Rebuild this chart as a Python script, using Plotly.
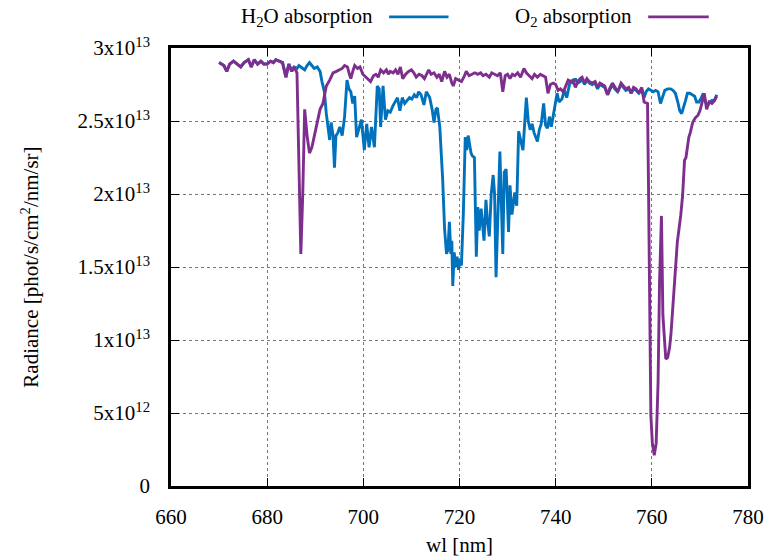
import plotly.graph_objects as go

# Wavelength grid [nm] and radiance [1e13 phot/s/cm^2/nm/sr] for each absorption band
wl_o2 = [670.0, 670.5, 671.0, 671.6, 672.2, 673.0, 673.8, 674.5, 675.2, 676.1, 676.7, 677.3, 678.0, 678.7,
         679.3, 680.0, 680.7, 681.3, 681.8, 682.5, 683.2, 683.9, 684.5, 685.1, 685.6, 686.2, 686.6, 687.0,
         687.4, 687.8, 688.3, 688.8, 689.3, 689.8, 690.4, 691.0, 691.6, 692.3, 693.0, 693.7, 694.4, 695.1,
         695.6, 696.1, 696.7, 697.1, 697.4, 697.8, 698.2, 698.8, 699.3, 699.9, 700.5, 701.0, 701.5, 702.1,
         702.6, 703.1, 703.6, 704.2, 704.8, 705.2, 705.6, 706.2, 706.7, 707.2, 707.7, 708.2, 708.8, 709.4,
         710.0, 710.5, 711.0, 711.6, 712.2, 712.7, 713.2, 713.6, 714.1, 714.7, 715.3, 715.8, 716.3, 716.9,
         717.4, 717.9, 718.4, 718.7, 719.2, 719.8, 720.4, 720.9, 721.4, 722.0, 722.6, 723.2, 723.8, 724.4,
         724.9, 725.5, 726.2, 726.7, 727.3, 727.9, 728.5, 729.0, 729.5, 730.0, 730.5, 731.0, 731.5, 732.1,
         732.7, 733.4, 733.9, 734.5, 735.1, 735.6, 736.2, 736.8, 737.4, 737.9, 738.4, 738.9, 739.5, 740.0,
         740.5, 741.0, 741.6, 742.1, 742.6, 743.1, 743.6, 744.1, 744.6, 745.1, 745.5, 746.0, 746.5, 747.0,
         747.6, 748.2, 748.7, 749.2, 749.7, 750.2, 750.8, 751.2, 751.8, 752.3, 752.9, 753.6, 754.1, 754.6,
         755.2, 755.7, 756.2, 756.7, 757.3, 757.9, 758.4, 759.1, 759.3, 759.6, 759.8, 760.1, 760.5, 760.9,
         761.3, 761.6, 761.9, 762.0, 762.3, 762.9, 763.3, 763.7, 764.0, 764.4, 764.9, 765.3, 766.0, 766.4,
         766.8, 767.1, 767.7, 768.0, 768.5, 769.0, 769.6, 770.0, 770.4, 770.9, 771.4, 771.9, 772.5, 773.0,
         773.5]
rad_o2 = [2.90, 2.89, 2.88, 2.84, 2.89, 2.91, 2.89, 2.87, 2.90, 2.92, 2.87, 2.92, 2.89, 2.91,
          2.89, 2.89, 2.91, 2.90, 2.92, 2.91, 2.90, 2.80, 2.89, 2.84, 2.87, 2.83, 2.20, 1.59,
          2.00, 2.58, 2.40, 2.28, 2.32, 2.40, 2.50, 2.58, 2.62, 2.74, 2.78, 2.83, 2.84, 2.85,
          2.86, 2.88, 2.87, 2.82, 2.79, 2.84, 2.88, 2.86, 2.87, 2.82, 2.80, 2.79, 2.77, 2.81,
          2.82, 2.80, 2.85, 2.83, 2.85, 2.82, 2.84, 2.83, 2.85, 2.82, 2.87, 2.79, 2.82, 2.84,
          2.85, 2.83, 2.80, 2.82, 2.81, 2.79, 2.83, 2.85, 2.82, 2.83, 2.80, 2.82, 2.77, 2.84,
          2.80, 2.82, 2.76, 2.74, 2.79, 2.78, 2.77, 2.80, 2.84, 2.81, 2.82, 2.83, 2.82, 2.83,
          2.81, 2.82, 2.80, 2.83, 2.82, 2.81, 2.83, 2.70, 2.81, 2.82, 2.79, 2.82, 2.81, 2.83,
          2.80, 2.86, 2.83, 2.81, 2.79, 2.82, 2.80, 2.82, 2.81, 2.80, 2.69, 2.75, 2.76, 2.75,
          2.71, 2.72, 2.70, 2.74, 2.78, 2.77, 2.78, 2.73, 2.77, 2.79, 2.80, 2.76, 2.79, 2.77,
          2.76, 2.77, 2.73, 2.76, 2.75, 2.74, 2.68, 2.72, 2.76, 2.73, 2.70, 2.76, 2.74, 2.72,
          2.73, 2.69, 2.73, 2.72, 2.69, 2.73, 2.63, 2.62, 2.08, 1.20, 0.48, 0.30, 0.21, 0.29,
          0.71, 1.39, 1.85, 1.85, 1.17, 0.87, 0.88, 0.95, 1.05, 1.26, 1.51, 1.67, 1.85, 1.99,
          2.23, 2.25, 2.39, 2.42, 2.49, 2.52, 2.54, 2.57, 2.62, 2.69, 2.58, 2.63, 2.62, 2.64,
          2.67]

wl_h2o = [670.0, 670.5, 671.0, 671.6, 672.2, 673.0, 673.8, 674.5, 675.2, 676.1, 676.7, 677.3, 678.0, 678.7,
          679.3, 680.0, 680.7, 681.3, 681.8, 682.5, 683.2, 683.9, 684.5, 685.1, 685.6, 686.2, 686.6, 687.0,
          687.4, 687.8, 688.3, 688.8, 689.3, 689.8, 690.4, 691.0, 691.4, 691.9, 692.3, 692.7, 693.0, 693.3,
          693.7, 694.0, 694.3, 694.7, 695.1, 695.6, 696.1, 696.6, 697.0, 697.4, 697.8, 698.2, 698.6, 699.1,
          699.6, 700.2, 700.7, 701.2, 701.7, 702.3, 702.9, 703.3, 703.6, 704.1, 704.6, 705.1, 705.6, 706.1,
          706.6, 707.1, 707.6, 708.1, 708.6, 709.1, 709.6, 710.1, 710.6, 711.1, 711.5, 712.0, 712.6, 713.1,
          713.8, 714.3, 714.7, 715.1, 715.4, 715.9, 716.5, 716.9, 717.3, 717.6, 717.9, 718.2, 718.4, 718.6,
          718.9, 719.2, 719.5, 719.8, 720.1, 720.4, 720.8, 721.2, 721.5, 721.8, 722.1, 722.4, 722.7, 723.1,
          723.5, 723.8, 724.1, 724.5, 725.1, 725.5, 725.8, 726.2, 726.6, 727.0, 727.3, 727.6, 727.9, 728.4,
          729.0, 729.3, 729.7, 730.2, 730.5, 730.9, 731.5, 731.9, 732.3, 732.7, 733.2, 733.9, 734.3, 734.7,
          735.1, 735.5, 736.2, 736.6, 737.0, 737.5, 737.9, 738.3, 738.7, 739.1, 739.7, 740.3, 740.7, 741.3,
          741.8, 742.3, 743.0, 743.6, 744.1, 744.6, 745.1, 745.5, 746.0, 746.5, 747.0, 747.6, 748.2, 748.7,
          749.2, 749.7, 750.2, 750.8, 751.2, 751.8, 752.3, 752.9, 753.6, 754.1, 754.6, 755.2, 755.7, 756.2,
          756.7, 757.3, 757.9, 758.4, 758.8, 759.3, 759.8, 760.3, 760.8, 761.3, 761.8, 762.2, 762.7, 763.3,
          763.9, 764.4, 764.9, 765.4, 765.8, 766.2, 766.6, 767.0, 767.4, 767.9, 768.4, 768.9, 769.3, 769.8,
          770.3, 770.7, 771.1, 771.5, 772.0, 772.5, 773.0, 773.5]
rad_h2o = [2.90, 2.89, 2.88, 2.84, 2.89, 2.91, 2.89, 2.87, 2.90, 2.92, 2.87, 2.92, 2.89, 2.91,
           2.89, 2.89, 2.91, 2.90, 2.92, 2.91, 2.90, 2.80, 2.89, 2.84, 2.87, 2.86, 2.88, 2.87,
           2.86, 2.85, 2.88, 2.90, 2.88, 2.86, 2.87, 2.84, 2.77, 2.70, 2.55, 2.45, 2.37, 2.49,
           2.40, 2.18, 2.40, 2.42, 2.46, 2.40, 2.53, 2.78, 2.72, 2.70, 2.62, 2.67, 2.39, 2.45,
           2.51, 2.30, 2.48, 2.32, 2.46, 2.32, 2.74, 2.72, 2.46, 2.74, 2.51, 2.57, 2.56, 2.60,
           2.63, 2.66, 2.57, 2.66, 2.62, 2.64, 2.66, 2.65, 2.68, 2.66, 2.70, 2.68, 2.61, 2.70,
           2.66, 2.58, 2.49, 2.58, 2.59, 2.46, 2.10, 1.76, 1.59, 1.62, 1.81, 1.59, 1.68, 1.37,
           1.60, 1.50, 1.57, 1.48, 1.55, 1.51, 1.87, 2.39, 2.30, 2.40, 2.32, 2.28, 2.26, 2.25,
           1.57, 1.91, 1.75, 1.90, 1.68, 1.96, 1.82, 1.71, 2.00, 2.13, 2.00, 1.43, 1.76, 2.29,
           1.59, 2.15, 2.17, 1.74, 2.06, 1.86, 2.01, 1.92, 2.43, 2.37, 2.30, 2.66, 2.50, 2.44,
           2.48, 2.42, 2.36, 2.44, 2.48, 2.62, 2.47, 2.45, 2.53, 2.46, 2.57, 2.69, 2.63, 2.65,
           2.71, 2.66, 2.77, 2.76, 2.79, 2.76, 2.77, 2.79, 2.75, 2.78, 2.76, 2.75, 2.76, 2.72,
           2.75, 2.74, 2.73, 2.68, 2.71, 2.75, 2.72, 2.70, 2.75, 2.73, 2.71, 2.72, 2.69, 2.72,
           2.71, 2.69, 2.72, 2.66, 2.70, 2.72, 2.71, 2.70, 2.71, 2.70, 2.62, 2.66, 2.71, 2.72,
           2.72, 2.71, 2.69, 2.63, 2.57, 2.55, 2.59, 2.64, 2.69, 2.69, 2.68, 2.67, 2.63, 2.63,
           2.66, 2.69, 2.64, 2.60, 2.63, 2.64, 2.64, 2.68]

SCALE = 1e13
x_ticks = [660, 680, 700, 720, 740, 760, 780]
y_ticks = [0, 5e12, 1e13, 1.5e13, 2e13, 2.5e13, 3e13]
y_mantissa = ["0", "5", "1", "1.5", "2", "2.5", "3"]
y_exponent = ["", "12", "13", "13", "13", "13", "13"]
series_names = ["H<sub>2</sub>O absorption", "O<sub>2</sub> absorption"]
series_colors = ["#0072bd", "#7e2f8e"]
x_title = "wl [nm]"
y_title = "Radiance [phot/s/cm<sup>2</sup>/nm/sr]"

FONT = "Liberation Serif, Times New Roman, serif"
FS = 21
LW = 2.9


def sci_label(m, e):
    if not e:
        return m
    return f"{m}x10<sup>{e}</sup>"


y_tick_text = [sci_label(m, e) for m, e in zip(y_mantissa, y_exponent)]

fig = go.Figure()
fig.add_trace(go.Scatter(x=wl_h2o, y=[v * SCALE for v in rad_h2o], mode="lines",
                         line=dict(color=series_colors[0], width=LW), showlegend=False))
fig.add_trace(go.Scatter(x=wl_o2, y=[v * SCALE for v in rad_o2], mode="lines",
                         line=dict(color=series_colors[1], width=LW), showlegend=False))

axis_common = dict(
    showline=True, linecolor="black", linewidth=2.5, mirror="ticks",
    ticks="inside", ticklen=8, tickwidth=1, tickcolor="black",
    showgrid=True, gridcolor="#777", griddash="dot", gridwidth=1,
    zeroline=False, tickfont=dict(family=FONT, size=FS, color="black"),
)

fig.update_xaxes(range=[660, 780], tickvals=x_ticks, ticktext=[str(t) for t in x_ticks],
                 ticklabelstandoff=10, **axis_common)
fig.update_yaxes(range=[0, 3e13], tickvals=y_ticks, ticktext=y_tick_text,
                 ticklabelstandoff=14, **axis_common)

# Axis titles
fig.add_annotation(x=0.5, y=-0.135, xref="paper", yref="paper", text=x_title, showarrow=False,
                   xanchor="center", yanchor="middle", font=dict(family=FONT, size=FS, color="black"))
fig.add_annotation(x=-0.245, y=0.5, xref="paper", yref="paper", text=y_title, showarrow=False,
                   textangle=-90, xanchor="center", yanchor="middle",
                   font=dict(family=FONT, size=FS, color="black"))

# Key row above the plot: label text followed by a line sample
key_y = 1.071
key_items = [(0.354, 0.378, 0.481), (0.803, 0.827, 0.932)]
for name, color, (tx, x0, x1) in zip(series_names, series_colors, key_items):
    fig.add_annotation(x=tx, y=key_y, xref="paper", yref="paper", text=name, showarrow=False,
                       xanchor="right", yanchor="middle",
                       font=dict(family=FONT, size=FS, color="black"))
    fig.add_shape(type="line", xref="paper", yref="paper", x0=x0, x1=x1, y0=key_y, y1=key_y,
                  line=dict(color=color, width=LW))

fig.update_layout(
    width=776, height=558,
    margin=dict(l=171, r=21, t=48, b=72),
    paper_bgcolor="white", plot_bgcolor="white",
    font=dict(family=FONT, size=FS, color="black"),
)

fig.write_html("out.html")
